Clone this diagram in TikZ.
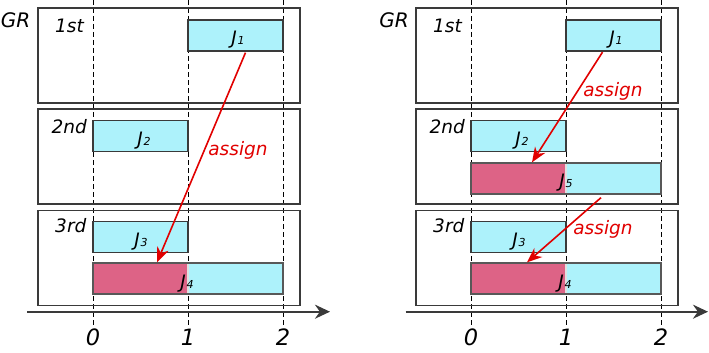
\documentclass[tikz,border=0pt]{standalone}
\usepackage{fontspec}
\setmainfont{DejaVu Sans}
\usetikzlibrary{arrows.meta,calc}
\definecolor{jcyan}{HTML}{ADF2FB}
\definecolor{jpink}{HTML}{DD6386}
\definecolor{edge}{HTML}{3A3A3A}
\definecolor{ared}{HTML}{E10000}
\newcommand\jl[1]{J\kern1pt{\fontsize{11}{11}\selectfont #1}}
\tikzset{
  grbox/.style={draw=edge, line width=1.3pt, minimum width=262pt, minimum height=95pt, inner sep=0pt},
  job/.style={draw=edge, line width=1.3pt, fill=jcyan, minimum height=31pt, inner sep=0pt},
  shortjob/.style={job, minimum width=95pt},
  longjob/.style={job, draw=edge!85, minimum width=190pt,
    path picture={\fill[jpink] (path picture bounding box.north west) rectangle ($(path picture bounding box.south)+(-1pt,0)$);
                  \fill[gray!25] ($(path picture bounding box.south)+(-1pt,0)$) rectangle ($(path picture bounding box.north)+(1pt,0)$);}},
  guide/.style={black, line width=0.9pt, dash pattern=on 5pt off 3pt},
  axis/.style={draw=edge, line width=2pt, -{Stealth[length=15pt,width=14pt]}},
  assignarrow/.style={ared, line width=1.6pt, -{Stealth[length=15pt,width=12pt]}},
  ordlbl/.style={font=\fontsize{18.5}{18.5}\selectfont\itshape, anchor=base, inner sep=0pt},
  grlbl/.style={font=\fontsize{20}{20}\selectfont\itshape, anchor=base, inner sep=0pt},
  joblbl/.style={font=\fontsize{18.5}{18.5}\selectfont\itshape, anchor=base, inner sep=0pt},
  ticklbl/.style={font=\fontsize{22.5}{22.5}\selectfont\itshape, anchor=base, inner sep=0pt},
  assignlbl/.style={font=\fontsize{18.5}{18.5}\selectfont\itshape, text=ared, anchor=base, inner sep=0pt},
}
\begin{document}
\begin{tikzpicture}[x=1pt,y=-1pt]
\useasboundingbox (0,0) rectangle (709,353);
% ================= LEFT PANEL =================
\foreach \gx in {93,188,283} {\draw[guide] (\gx,0) -- (\gx,325);}
\node[grbox] (LB1) at (169,55.5) {};
\node[grbox] (LB2) at (169,156.5) {};
\node[grbox] (LB3) at (169,258.2) {};
\node[grlbl] (LGR) at (15.5,27.7) {GR};
\node[ordlbl] (Lo1) at (69.5,32.3) {1st};
\node[ordlbl] (Lo2) at (69.2,133.3) {2nd};
\node[ordlbl] (Lo3) at (70.8,232.7) {3rd};
\node[shortjob] (LJ1) at (235.5,35.5) {};
\node[shortjob] (LJ2) at (140.5,136.3) {};
\node[shortjob] (LJ3) at (140.5,237.3) {};
\node[longjob] (LJ4) at (188,278.5) {};
\node[joblbl] at (238,44.3) {\jl{1}};
\node[joblbl] at (144,145.7) {\jl{2}};
\node[joblbl] at (141,246) {\jl{3}};
\node[joblbl] at (187,288) {\jl{4}};
\coordinate (Lax0) at (27,311.7);
\coordinate (Lax1) at (330,311.7);
\draw[axis] (Lax0) -- (Lax1);
\node[ticklbl] (Lt0) at (93,345) {0};
\node[ticklbl] (Lt1) at (188,345) {1};
\node[ticklbl] (Lt2) at (283,345) {2};
\draw[assignarrow] ($(LJ1.south)+(10,1)$) -- ($(LJ4.north)+(-31,0)$);
\node[assignlbl] (La) at (238,155.5) {assign};
% ================= RIGHT PANEL =================
\foreach \gx in {471,566,661} {\draw[guide] (\gx,0) -- (\gx,325);}
\node[grbox] (RB1) at (547,55.5) {};
\node[grbox] (RB2) at (547,156.5) {};
\node[grbox] (RB3) at (547,258.2) {};
\node[grlbl] (RGR) at (394,27.7) {GR};
\node[ordlbl] (Ro1) at (447.5,32.3) {1st};
\node[ordlbl] (Ro2) at (447.2,133.3) {2nd};
\node[ordlbl] (Ro3) at (448.8,232.7) {3rd};
\node[shortjob] (RJ1) at (613.5,35.5) {};
\node[shortjob] (RJ2) at (518.5,136.3) {};
\node[longjob] (RJ5) at (566,178.5) {};
\node[shortjob] (RJ3) at (518.5,237.3) {};
\node[longjob] (RJ4) at (566,278.5) {};
\node[joblbl] at (616,44.3) {\jl{1}};
\node[joblbl] at (522,145.7) {\jl{2}};
\node[joblbl] at (566,187.3) {\jl{5}};
\node[joblbl] at (519,246) {\jl{3}};
\node[joblbl] at (565,288) {\jl{4}};
\coordinate (Rax0) at (405.5,311.7);
\coordinate (Rax1) at (708,311.7);
\draw[axis] (Rax0) -- (Rax1);
\node[ticklbl] (Rt0) at (471,345) {0};
\node[ticklbl] (Rt1) at (566,345) {1};
\node[ticklbl] (Rt2) at (661,345) {2};
\draw[assignarrow] ($(RJ1.south)+(-11,0.5)$) -- ($(RJ5.north)+(-34,0)$);
\node[assignlbl] (Ra1) at (613,96) {assign};
\draw[assignarrow] ($(RJ5.south)+(35,3)$) -- ($(RJ4.north)+(-39,0)$);
\node[assignlbl] (Ra2) at (603,234) {assign};
\end{tikzpicture}
\end{document}
